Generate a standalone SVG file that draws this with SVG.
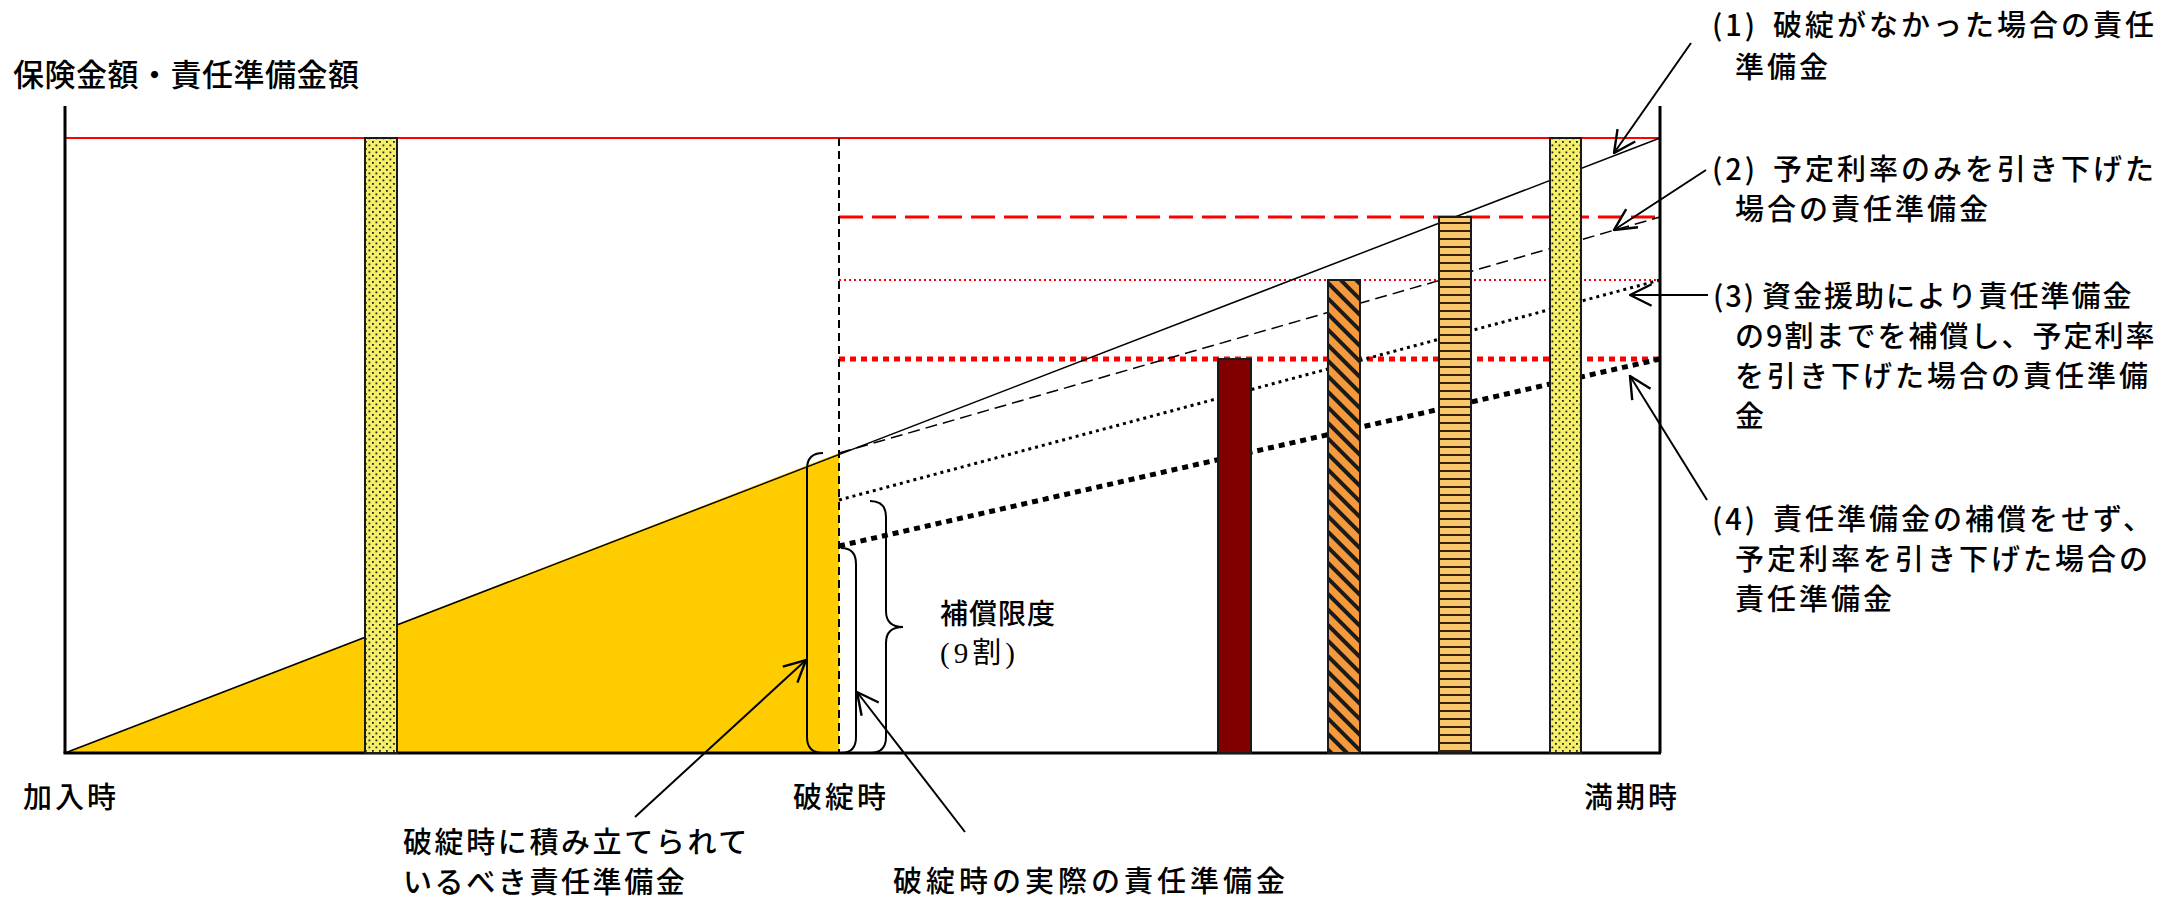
<svg xmlns="http://www.w3.org/2000/svg" width="2163" height="901" viewBox="0 0 2163 901">
<style>
  .t { font-family: "Noto Sans CJK JP", "Liberation Sans", sans-serif; font-size: 29px; font-weight: 500; fill: #000; letter-spacing: 3px; }
  .ser { font-family: "Liberation Serif", "Noto Sans CJK JP", serif; font-size: 29px; fill: #000; letter-spacing: 4px; }
  .axis { stroke: #000; stroke-width: 3; fill: none; }
  .ln { stroke: #000; fill: none; }
  .red { stroke: #ff0000; fill: none; }
  .bar { stroke: #1a1a1a; stroke-width: 2; }
  .br { stroke: #000; stroke-width: 2; fill: none; }
  .arr { stroke: #000; stroke-width: 2; fill: none; marker-end: url(#ah); }
</style>
<defs>
  <marker id="ah" markerUnits="userSpaceOnUse" markerWidth="24" markerHeight="24" viewBox="0 0 20 20" refX="19" refY="10" orient="auto">
    <path d="M1,1 L19,10 L1,19" fill="none" stroke="#000" stroke-width="2"/>
  </marker>
  <pattern id="dots" width="7" height="7" patternUnits="userSpaceOnUse">
    <rect width="7" height="7" fill="#f5f068"/>
    <rect x="1" y="1" width="1.8" height="1.8" fill="#222"/>
    <rect x="4.5" y="4.5" width="1.8" height="1.8" fill="#222"/>
  </pattern>
  <pattern id="hatch" width="11" height="11" patternUnits="userSpaceOnUse" patternTransform="rotate(-45)">
    <rect width="11" height="11" fill="#f59a3c"/>
    <rect x="0" y="0" width="4" height="11" fill="#1a1a1a"/>
  </pattern>
  <pattern id="hstripe" width="8" height="8" patternUnits="userSpaceOnUse">
    <rect width="8" height="8" fill="#f8c86a"/>
    <rect x="0" y="6" width="8" height="2" fill="#3a200a"/>
  </pattern>
</defs>

<rect width="2163" height="901" fill="#fff"/>

<g id="reserve-area">
  <polygon points="65,753 839,453 839,753" fill="#ffcc00"/>
</g>

<g id="red-levels">
  <line class="red" x1="65" y1="138" x2="1660" y2="138" stroke-width="2"/>
  <line class="red" x1="839" y1="217" x2="1660" y2="217" stroke-width="3" stroke-dasharray="24 9"/>
  <line class="red" x1="839" y1="280" x2="1660" y2="280" stroke-width="2" stroke-dasharray="2 3"/>
  <line class="red" x1="839" y1="359" x2="1660" y2="359" stroke-width="5" stroke-dasharray="6 5"/>
</g>

<g id="reserve-lines">
  <line class="ln" x1="65" y1="753" x2="1660" y2="138" stroke-width="1.5"/>
  <line class="ln" x1="839" y1="453" x2="1660" y2="217" stroke-width="1.5" stroke-dasharray="12 6"/>
  <line class="ln" x1="839" y1="500" x2="1660" y2="280" stroke-width="3" stroke-dasharray="3 4"/>
  <line class="ln" x1="839" y1="546" x2="1660" y2="359" stroke-width="5" stroke-dasharray="6 5"/>
  <line class="ln" x1="839" y1="138" x2="839" y2="753" stroke-width="2" stroke-dasharray="8 5"/>
</g>

<g id="axes">
  <line class="axis" x1="65" y1="106" x2="65" y2="753"/>
  <line class="axis" x1="1660" y1="106" x2="1660" y2="753" stroke-width="2.5"/>
  <line class="axis" x1="63.5" y1="753" x2="1661" y2="753"/>
</g>

<g id="bar-1"><rect class="bar" x="365" y="138" width="32" height="615" fill="url(#dots)"/></g>
<g id="bar-2"><rect class="bar" x="1218" y="359" width="33" height="394" fill="#800000"/></g>
<g id="bar-3"><rect class="bar" x="1328" y="280" width="32" height="473" fill="url(#hatch)"/></g>
<g id="bar-4"><rect class="bar" x="1439" y="217" width="32" height="536" fill="url(#hstripe)"/></g>
<g id="bar-5"><rect class="bar" x="1550" y="138" width="31" height="615" fill="url(#dots)"/></g>

<g id="braces">
  <path class="br" d="M823,453 Q807,453 807,469 L807,737 Q807,753 823,753"/>
  <path class="br" d="M841,548 Q856,548 856,564 L856,737 Q856,753 841,753"/>
  <path class="br" d="M870,501 Q886,501 886,517 L886,611 Q886,627 903,627 Q886,627 886,643 L886,737 Q886,753 870,753"/>
</g>

<g id="connectors">
  <line class="arr" x1="1691" y1="43" x2="1614" y2="153"/>
  <line class="arr" x1="1706" y1="170" x2="1614" y2="230"/>
  <line class="arr" x1="1708" y1="295" x2="1630" y2="295"/>
  <line class="arr" x1="1707" y1="500" x2="1630" y2="376"/>
  <line class="arr" x1="635" y1="817" x2="806" y2="660"/>
  <line class="arr" x1="965" y1="832" x2="857" y2="692"/>
</g>

<g id="title">
  <text class="t" x="13" y="86" style="font-size:31px;letter-spacing:0.5px">保険金額・責任準備金額</text>
</g>

<g id="label-1">
  <text class="t" y="36"><tspan x="1712">(1) </tspan><tspan x="1773">破綻がなかった場合の責任</tspan></text>
  <text class="t" x="1735" y="78">準備金</text>
</g>
<g id="label-2">
  <text class="t" y="180"><tspan x="1712">(2) </tspan><tspan x="1773">予定利率のみを引き下げた</tspan></text>
  <text class="t" x="1735" y="220">場合の責任準備金</text>
</g>
<g id="label-3">
  <text class="t" y="307" style="letter-spacing:2px"><tspan x="1713">(3) </tspan><tspan x="1762">資金援助により責任準備金</tspan></text>
  <text class="t" x="1735" y="347" style="letter-spacing:2px">の9割までを補償し、予定利率</text>
  <text class="t" x="1735" y="387">を引き下げた場合の責任準備</text>
  <text class="t" x="1735" y="427">金</text>
</g>
<g id="label-4">
  <text class="t" y="530"><tspan x="1712">(4) </tspan><tspan x="1773">責任準備金の補償をせず、</tspan></text>
  <text class="t" x="1735" y="570">予定利率を引き下げた場合の</text>
  <text class="t" x="1735" y="610">責任準備金</text>
</g>

<g id="label-compensation">
  <text class="t" x="940" y="624" style="font-size:28px;letter-spacing:1px">補償限度</text>
  <text class="ser" x="940" y="663">(9割)</text>
</g>

<g id="axis-labels">
  <text class="t" x="23" y="808">加入時</text>
  <text class="t" x="793" y="808">破綻時</text>
  <text class="t" x="1584" y="808">満期時</text>
</g>

<g id="label-required">
  <text class="t" x="403" y="853" style="letter-spacing:2.6px">破綻時に積み立てられて</text>
  <text class="t" x="403" y="893" style="letter-spacing:2.6px">いるべき責任準備金</text>
</g>
<g id="label-actual">
  <text class="t" x="893" y="892" style="letter-spacing:4px">破綻時の実際の責任準備金</text>
</g>
</svg>
